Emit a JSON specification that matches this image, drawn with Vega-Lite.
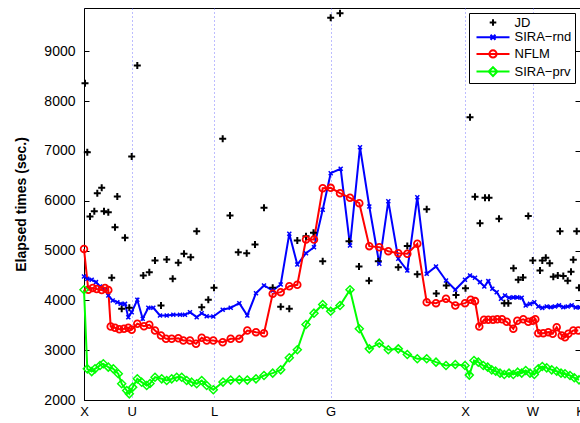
{
  "$schema": "https://vega.github.io/schema/vega-lite/v6.json",
  "width": 496,
  "height": 392,
  "autosize": {"type": "none"},
  "padding": {"left": 84, "top": 8, "right": 0, "bottom": 23},
  "background": "white",
  "config": {
    "font": "Liberation Sans",
    "view": {"stroke": "black", "strokeWidth": 1},
    "axis": {"domainColor": "black", "tickColor": "black", "labelColor": "black", "titleColor": "black", "grid": false}
  },
  "datasets": {
    "times": [
      {"series": "JD", "k": 1, "t": 8361}, {"series": "JD", "k": 3.3, "t": 6976}, {"series": "JD", "k": 6, "t": 5685}, {"series": "JD", "k": 10.3, "t": 5791},
      {"series": "JD", "k": 13.3, "t": 6153}, {"series": "JD", "k": 17.7, "t": 6261}, {"series": "JD", "k": 20, "t": 5791}, {"series": "JD", "k": 24.3, "t": 5771},
      {"series": "JD", "k": 27.7, "t": 4454}, {"series": "JD", "k": 31, "t": 5470}, {"series": "JD", "k": 33.3, "t": 6086}, {"series": "JD", "k": 37.7, "t": 3831},
      {"series": "JD", "k": 41, "t": 5257}, {"series": "JD", "k": 45.3, "t": 3851}, {"series": "JD", "k": 47.7, "t": 6890}, {"series": "JD", "k": 53.3, "t": 8717},
      {"series": "JD", "k": 59.3, "t": 4500}, {"series": "JD", "k": 65.3, "t": 4567}, {"series": "JD", "k": 71, "t": 4801}, {"series": "JD", "k": 77, "t": 3898},
      {"series": "JD", "k": 82.7, "t": 4821}, {"series": "JD", "k": 88.7, "t": 4434}, {"series": "JD", "k": 94.3, "t": 4755}, {"series": "JD", "k": 100, "t": 4935},
      {"series": "JD", "k": 106.7, "t": 4868}, {"series": "JD", "k": 112.7, "t": 5389}, {"series": "JD", "k": 117.7, "t": 3864}, {"series": "JD", "k": 124.3, "t": 4012},
      {"series": "JD", "k": 130, "t": 4253}, {"series": "JD", "k": 138.7, "t": 7245}, {"series": "JD", "k": 146, "t": 5705}, {"series": "JD", "k": 154.3, "t": 4968},
      {"series": "JD", "k": 162.7, "t": 4948}, {"series": "JD", "k": 171, "t": 5122}, {"series": "JD", "k": 180, "t": 5859}, {"series": "JD", "k": 188.7, "t": 4253},
      {"series": "JD", "k": 196.7, "t": 3871}, {"series": "JD", "k": 205.3, "t": 3831}, {"series": "JD", "k": 213.3, "t": 5200}, {"series": "JD", "k": 222, "t": 5290},
      {"series": "JD", "k": 229.5, "t": 5360}, {"series": "JD", "k": 238.7, "t": 4787}, {"series": "JD", "k": 246.7, "t": 9675}, {"series": "JD", "k": 256, "t": 9767},
      {"series": "JD", "k": 265, "t": 5189}, {"series": "JD", "k": 275, "t": 4681}, {"series": "JD", "k": 285, "t": 4393}, {"series": "JD", "k": 294.3, "t": 4787},
      {"series": "JD", "k": 314.3, "t": 4667}, {"series": "JD", "k": 323.3, "t": 5092}, {"series": "JD", "k": 333.3, "t": 4527}, {"series": "JD", "k": 342.7, "t": 5832},
      {"series": "JD", "k": 352.3, "t": 4140}, {"series": "JD", "k": 362.3, "t": 4299}, {"series": "JD", "k": 372, "t": 4110}, {"series": "JD", "k": 381.5, "t": 4243},
      {"series": "JD", "k": 386, "t": 7679}, {"series": "JD", "k": 391, "t": 6080}, {"series": "JD", "k": 396, "t": 5550}, {"series": "JD", "k": 401, "t": 6060},
      {"series": "JD", "k": 405, "t": 6060}, {"series": "JD", "k": 415, "t": 5638}, {"series": "JD", "k": 420.3, "t": 3944}, {"series": "JD", "k": 424.3, "t": 3944},
      {"series": "JD", "k": 429.5, "t": 4645}, {"series": "JD", "k": 434.3, "t": 4413}, {"series": "JD", "k": 439, "t": 4460}, {"series": "JD", "k": 444.3, "t": 5695},
      {"series": "JD", "k": 448.8, "t": 4801}, {"series": "JD", "k": 456, "t": 4600}, {"series": "JD", "k": 458.3, "t": 4801}, {"series": "JD", "k": 461.8, "t": 4855},
      {"series": "JD", "k": 465.7, "t": 4747}, {"series": "JD", "k": 469.3, "t": 4473}, {"series": "JD", "k": 473.8, "t": 4500}, {"series": "JD", "k": 476, "t": 5389},
      {"series": "JD", "k": 479.3, "t": 4490}, {"series": "JD", "k": 483.7, "t": 4393}, {"series": "JD", "k": 487, "t": 4577}, {"series": "JD", "k": 489.3, "t": 4815},
      {"series": "JD", "k": 492.7, "t": 5389}, {"series": "JD", "k": 495, "t": 4253},

      {"series": "SIRA−rnd", "k": 0, "t": 4480}, {"series": "SIRA−rnd", "k": 3.3, "t": 4433}, {"series": "SIRA−rnd", "k": 7.7, "t": 4413}, {"series": "SIRA−rnd", "k": 12, "t": 4366},
      {"series": "SIRA−rnd", "k": 16, "t": 4279}, {"series": "SIRA−rnd", "k": 21, "t": 4213}, {"series": "SIRA−rnd", "k": 24.3, "t": 4098}, {"series": "SIRA−rnd", "k": 28.7, "t": 3998},
      {"series": "SIRA−rnd", "k": 33.3, "t": 3964}, {"series": "SIRA−rnd", "k": 36.7, "t": 3932}, {"series": "SIRA−rnd", "k": 41, "t": 3930}, {"series": "SIRA−rnd", "k": 44.3, "t": 3663},
      {"series": "SIRA−rnd", "k": 47.7, "t": 3763}, {"series": "SIRA−rnd", "k": 53.3, "t": 4012}, {"series": "SIRA−rnd", "k": 58.7, "t": 3630}, {"series": "SIRA−rnd", "k": 64.3, "t": 3851},
      {"series": "SIRA−rnd", "k": 69.3, "t": 3851}, {"series": "SIRA−rnd", "k": 76, "t": 3697}, {"series": "SIRA−rnd", "k": 82.7, "t": 3697}, {"series": "SIRA−rnd", "k": 89.3, "t": 3710},
      {"series": "SIRA−rnd", "k": 96, "t": 3710}, {"series": "SIRA−rnd", "k": 101, "t": 3710}, {"series": "SIRA−rnd", "k": 106, "t": 3763}, {"series": "SIRA−rnd", "k": 112.7, "t": 3663},
      {"series": "SIRA−rnd", "k": 117.7, "t": 3743}, {"series": "SIRA−rnd", "k": 122.7, "t": 3680}, {"series": "SIRA−rnd", "k": 129.3, "t": 3676}, {"series": "SIRA−rnd", "k": 138.7, "t": 3811},
      {"series": "SIRA−rnd", "k": 146.7, "t": 3851}, {"series": "SIRA−rnd", "k": 155.3, "t": 3944}, {"series": "SIRA−rnd", "k": 163.3, "t": 3697}, {"series": "SIRA−rnd", "k": 172, "t": 4145},
      {"series": "SIRA−rnd", "k": 180, "t": 4299}, {"series": "SIRA−rnd", "k": 188.7, "t": 4199}, {"series": "SIRA−rnd", "k": 196.7, "t": 4319}, {"series": "SIRA−rnd", "k": 205.3, "t": 5337},
      {"series": "SIRA−rnd", "k": 213.3, "t": 4720}, {"series": "SIRA−rnd", "k": 222, "t": 4948}, {"series": "SIRA−rnd", "k": 230, "t": 5068}, {"series": "SIRA−rnd", "k": 238.7, "t": 5819},
      {"series": "SIRA−rnd", "k": 246.7, "t": 6554}, {"series": "SIRA−rnd", "k": 256.7, "t": 6642}, {"series": "SIRA−rnd", "k": 266, "t": 5102}, {"series": "SIRA−rnd", "k": 276, "t": 7076},
      {"series": "SIRA−rnd", "k": 285.3, "t": 5885}, {"series": "SIRA−rnd", "k": 295.3, "t": 4735}, {"series": "SIRA−rnd", "k": 304.3, "t": 5992}, {"series": "SIRA−rnd", "k": 314.3, "t": 4835},
      {"series": "SIRA−rnd", "k": 323.3, "t": 4600}, {"series": "SIRA−rnd", "k": 333.3, "t": 6072}, {"series": "SIRA−rnd", "k": 342.7, "t": 4534}, {"series": "SIRA−rnd", "k": 352, "t": 4681},
      {"series": "SIRA−rnd", "k": 362, "t": 4400}, {"series": "SIRA−rnd", "k": 371.3, "t": 4213}, {"series": "SIRA−rnd", "k": 381, "t": 4413}, {"series": "SIRA−rnd", "k": 386, "t": 4500},
      {"series": "SIRA−rnd", "k": 391, "t": 4453}, {"series": "SIRA−rnd", "k": 396, "t": 4366}, {"series": "SIRA−rnd", "k": 400.3, "t": 4279}, {"series": "SIRA−rnd", "k": 404.3, "t": 4386},
      {"series": "SIRA−rnd", "k": 408.3, "t": 4233}, {"series": "SIRA−rnd", "k": 412.7, "t": 4165}, {"series": "SIRA−rnd", "k": 417, "t": 4032}, {"series": "SIRA−rnd", "k": 421, "t": 4098},
      {"series": "SIRA−rnd", "k": 425, "t": 4052}, {"series": "SIRA−rnd", "k": 429.3, "t": 4060}, {"series": "SIRA−rnd", "k": 433.3, "t": 4060}, {"series": "SIRA−rnd", "k": 437.7, "t": 4052},
      {"series": "SIRA−rnd", "k": 441.7, "t": 3898}, {"series": "SIRA−rnd", "k": 446, "t": 3930}, {"series": "SIRA−rnd", "k": 450.3, "t": 3964}, {"series": "SIRA−rnd", "k": 454.3, "t": 3878},
      {"series": "SIRA−rnd", "k": 458.3, "t": 3850}, {"series": "SIRA−rnd", "k": 462.7, "t": 3878}, {"series": "SIRA−rnd", "k": 466.7, "t": 3864}, {"series": "SIRA−rnd", "k": 471, "t": 3878},
      {"series": "SIRA−rnd", "k": 475, "t": 3900}, {"series": "SIRA−rnd", "k": 479.3, "t": 3864}, {"series": "SIRA−rnd", "k": 483.7, "t": 3878}, {"series": "SIRA−rnd", "k": 487.7, "t": 3900},
      {"series": "SIRA−rnd", "k": 491.7, "t": 3860}, {"series": "SIRA−rnd", "k": 496, "t": 3860},

      {"series": "NFLM", "k": 0, "t": 5030}, {"series": "NFLM", "k": 4.3, "t": 4213}, {"series": "NFLM", "k": 8.7, "t": 4250}, {"series": "NFLM", "k": 12.7, "t": 4230},
      {"series": "NFLM", "k": 17.7, "t": 4210}, {"series": "NFLM", "k": 21, "t": 4250}, {"series": "NFLM", "k": 24.3, "t": 4210}, {"series": "NFLM", "k": 26.7, "t": 3476},
      {"series": "NFLM", "k": 31, "t": 3450}, {"series": "NFLM", "k": 35.3, "t": 3420}, {"series": "NFLM", "k": 40, "t": 3430}, {"series": "NFLM", "k": 44.3, "t": 3450},
      {"series": "NFLM", "k": 47.7, "t": 3410}, {"series": "NFLM", "k": 53.3, "t": 3530}, {"series": "NFLM", "k": 60, "t": 3480}, {"series": "NFLM", "k": 65.3, "t": 3510},
      {"series": "NFLM", "k": 71, "t": 3396}, {"series": "NFLM", "k": 77, "t": 3295}, {"series": "NFLM", "k": 82, "t": 3229}, {"series": "NFLM", "k": 87.7, "t": 3229},
      {"series": "NFLM", "k": 94.3, "t": 3240}, {"series": "NFLM", "k": 99.3, "t": 3195}, {"series": "NFLM", "k": 106, "t": 3195}, {"series": "NFLM", "k": 112, "t": 3128},
      {"series": "NFLM", "k": 117.7, "t": 3249}, {"series": "NFLM", "k": 122.7, "t": 3195}, {"series": "NFLM", "k": 129.3, "t": 3195}, {"series": "NFLM", "k": 138.7, "t": 3161},
      {"series": "NFLM", "k": 146.7, "t": 3229}, {"series": "NFLM", "k": 155.3, "t": 3229}, {"series": "NFLM", "k": 163.3, "t": 3396}, {"series": "NFLM", "k": 172, "t": 3362},
      {"series": "NFLM", "k": 180, "t": 3342}, {"series": "NFLM", "k": 188.7, "t": 4132}, {"series": "NFLM", "k": 196.7, "t": 4165}, {"series": "NFLM", "k": 205.3, "t": 4285},
      {"series": "NFLM", "k": 213.3, "t": 4313}, {"series": "NFLM", "k": 222, "t": 5223}, {"series": "NFLM", "k": 230, "t": 5223}, {"series": "NFLM", "k": 238.7, "t": 6253},
      {"series": "NFLM", "k": 246.7, "t": 6259}, {"series": "NFLM", "k": 256, "t": 6153}, {"series": "NFLM", "k": 266, "t": 6060}, {"series": "NFLM", "k": 275.3, "t": 5952},
      {"series": "NFLM", "k": 285.3, "t": 5089}, {"series": "NFLM", "k": 295.3, "t": 5068}, {"series": "NFLM", "k": 304.3, "t": 4988}, {"series": "NFLM", "k": 314.3, "t": 4948},
      {"series": "NFLM", "k": 323.3, "t": 4935}, {"series": "NFLM", "k": 333.3, "t": 5136}, {"series": "NFLM", "k": 342.7, "t": 3964}, {"series": "NFLM", "k": 352, "t": 3944},
      {"series": "NFLM", "k": 362, "t": 4032}, {"series": "NFLM", "k": 371.3, "t": 3898}, {"series": "NFLM", "k": 381, "t": 3944}, {"series": "NFLM", "k": 386.7, "t": 4012},
      {"series": "NFLM", "k": 391, "t": 3985}, {"series": "NFLM", "k": 395.3, "t": 3476}, {"series": "NFLM", "k": 400, "t": 3610}, {"series": "NFLM", "k": 404.3, "t": 3610},
      {"series": "NFLM", "k": 409, "t": 3610}, {"series": "NFLM", "k": 413.3, "t": 3620}, {"series": "NFLM", "k": 418, "t": 3620}, {"series": "NFLM", "k": 422.7, "t": 3570},
      {"series": "NFLM", "k": 429.3, "t": 3430}, {"series": "NFLM", "k": 433.3, "t": 3590}, {"series": "NFLM", "k": 439.3, "t": 3620}, {"series": "NFLM", "k": 444.3, "t": 3570},
      {"series": "NFLM", "k": 448.7, "t": 3590}, {"series": "NFLM", "k": 451.3, "t": 3620}, {"series": "NFLM", "k": 454.3, "t": 3342}, {"series": "NFLM", "k": 459.3, "t": 3342},
      {"series": "NFLM", "k": 464.3, "t": 3362}, {"series": "NFLM", "k": 468.7, "t": 3329}, {"series": "NFLM", "k": 472.7, "t": 3462}, {"series": "NFLM", "k": 477.7, "t": 3295},
      {"series": "NFLM", "k": 481, "t": 3261}, {"series": "NFLM", "k": 484.3, "t": 3329}, {"series": "NFLM", "k": 489.3, "t": 3396}, {"series": "NFLM", "k": 494.3, "t": 3396},

      {"series": "SIRA−prv", "k": 0, "t": 4213}, {"series": "SIRA−prv", "k": 3.3, "t": 2626}, {"series": "SIRA−prv", "k": 7.7, "t": 2570}, {"series": "SIRA−prv", "k": 11, "t": 2626},
      {"series": "SIRA−prv", "k": 16, "t": 2693}, {"series": "SIRA−prv", "k": 19.3, "t": 2727}, {"series": "SIRA−prv", "k": 24.3, "t": 2660}, {"series": "SIRA−prv", "k": 29.3, "t": 2626},
      {"series": "SIRA−prv", "k": 34.3, "t": 2526}, {"series": "SIRA−prv", "k": 37.7, "t": 2325}, {"series": "SIRA−prv", "k": 42.7, "t": 2191}, {"series": "SIRA−prv", "k": 45.3, "t": 2124},
      {"series": "SIRA−prv", "k": 48.7, "t": 2258}, {"series": "SIRA−prv", "k": 53.3, "t": 2425}, {"series": "SIRA−prv", "k": 57.7, "t": 2358}, {"series": "SIRA−prv", "k": 62.7, "t": 2291},
      {"series": "SIRA−prv", "k": 66, "t": 2330}, {"series": "SIRA−prv", "k": 71, "t": 2458}, {"series": "SIRA−prv", "k": 77.7, "t": 2425}, {"series": "SIRA−prv", "k": 82.7, "t": 2392},
      {"series": "SIRA−prv", "k": 87.7, "t": 2425}, {"series": "SIRA−prv", "k": 92.7, "t": 2458}, {"series": "SIRA−prv", "k": 97.7, "t": 2458}, {"series": "SIRA−prv", "k": 102.7, "t": 2392},
      {"series": "SIRA−prv", "k": 107.7, "t": 2358}, {"series": "SIRA−prv", "k": 112.7, "t": 2325}, {"series": "SIRA−prv", "k": 117.7, "t": 2392}, {"series": "SIRA−prv", "k": 122.7, "t": 2291},
      {"series": "SIRA−prv", "k": 129.3, "t": 2205}, {"series": "SIRA−prv", "k": 139, "t": 2360}, {"series": "SIRA−prv", "k": 146.7, "t": 2400}, {"series": "SIRA−prv", "k": 155.3, "t": 2405},
      {"series": "SIRA−prv", "k": 163.3, "t": 2400}, {"series": "SIRA−prv", "k": 172, "t": 2425}, {"series": "SIRA−prv", "k": 180, "t": 2492}, {"series": "SIRA−prv", "k": 188.7, "t": 2539},
      {"series": "SIRA−prv", "k": 196.7, "t": 2606}, {"series": "SIRA−prv", "k": 205.3, "t": 2847}, {"series": "SIRA−prv", "k": 213.3, "t": 3008}, {"series": "SIRA−prv", "k": 222, "t": 3516},
      {"series": "SIRA−prv", "k": 230, "t": 3743}, {"series": "SIRA−prv", "k": 238.7, "t": 3918}, {"series": "SIRA−prv", "k": 246.7, "t": 3783}, {"series": "SIRA−prv", "k": 256, "t": 3898},
      {"series": "SIRA−prv", "k": 266, "t": 4213}, {"series": "SIRA−prv", "k": 275.3, "t": 3430}, {"series": "SIRA−prv", "k": 285.3, "t": 3027}, {"series": "SIRA−prv", "k": 295.3, "t": 3141},
      {"series": "SIRA−prv", "k": 304.3, "t": 3008}, {"series": "SIRA−prv", "k": 314.3, "t": 3027}, {"series": "SIRA−prv", "k": 323.3, "t": 2914}, {"series": "SIRA−prv", "k": 333.3, "t": 2827},
      {"series": "SIRA−prv", "k": 342.7, "t": 2827}, {"series": "SIRA−prv", "k": 352, "t": 2760}, {"series": "SIRA−prv", "k": 362, "t": 2693}, {"series": "SIRA−prv", "k": 371.3, "t": 2713},
      {"series": "SIRA−prv", "k": 381, "t": 2693}, {"series": "SIRA−prv", "k": 385.3, "t": 2500}, {"series": "SIRA−prv", "k": 390, "t": 2793}, {"series": "SIRA−prv", "k": 394.3, "t": 2760},
      {"series": "SIRA−prv", "k": 399.3, "t": 2693}, {"series": "SIRA−prv", "k": 403.7, "t": 2660}, {"series": "SIRA−prv", "k": 407.7, "t": 2606}, {"series": "SIRA−prv", "k": 411.7, "t": 2579},
      {"series": "SIRA−prv", "k": 416, "t": 2539}, {"series": "SIRA−prv", "k": 420.3, "t": 2512}, {"series": "SIRA−prv", "k": 425, "t": 2539}, {"series": "SIRA−prv", "k": 429.3, "t": 2512},
      {"series": "SIRA−prv", "k": 433.7, "t": 2559}, {"series": "SIRA−prv", "k": 437.7, "t": 2539}, {"series": "SIRA−prv", "k": 441.7, "t": 2592}, {"series": "SIRA−prv", "k": 446, "t": 2539},
      {"series": "SIRA−prv", "k": 450.3, "t": 2512}, {"series": "SIRA−prv", "k": 454.3, "t": 2626}, {"series": "SIRA−prv", "k": 458.3, "t": 2673}, {"series": "SIRA−prv", "k": 462.7, "t": 2646},
      {"series": "SIRA−prv", "k": 467.7, "t": 2606}, {"series": "SIRA−prv", "k": 472.7, "t": 2579}, {"series": "SIRA−prv", "k": 477, "t": 2539}, {"series": "SIRA−prv", "k": 481, "t": 2526},
      {"series": "SIRA−prv", "k": 486, "t": 2492}, {"series": "SIRA−prv", "k": 490.3, "t": 2446}, {"series": "SIRA−prv", "k": 495, "t": 2405}
    ]
  },
  "data": {"name": "times"},
  "encoding": {
    "x": {
      "field": "k", "type": "quantitative",
      "scale": {"domain": [0, 496], "nice": false, "zero": false},
      "axis": {
        "title": null, "values": [0, 47.6, 130, 246.6, 381.2, 448.5, 496],
        "labelExpr": "datum.value < 10 ? 'X' : datum.value < 60 ? 'U' : datum.value < 140 ? 'L' : datum.value < 300 ? 'G' : datum.value < 400 ? 'X' : datum.value < 470 ? 'W' : 'K'",
        "labelFlush": false, "labelOverlap": false, "labelFontSize": 13, "labelPadding": 5,
        "ticks": false, "grid": true, "gridDash": [1, 3], "gridColor": "#5a5aff", "gridOpacity": 0.8, "gridWidth": 1
      }
    },
    "y": {"field": "t", "type": "quantitative", "scale": {"domain": [2000, 9870], "nice": false, "zero": false}, "axis": null},
    "color": {
      "field": "series", "type": "nominal",
      "scale": {"domain": ["JD", "SIRA−rnd", "NFLM", "SIRA−prv"], "range": ["#000000", "#0000ff", "#ff0000", "#00ff00"]},
      "legend": {
        "title": null, "orient": "top-right", "offset": 5, "padding": 3,
        "strokeColor": "black", "fillColor": "white", "labelFontSize": 13, "labelColor": "black",
        "symbolSize": 121, "symbolStrokeWidth": 2, "symbolOpacity": 1, "rowPadding": 0.7,
        "symbolOffset": 14.5, "labelOffset": 15,
        "encode": {
          "symbols": {
            "update": {
              "shape": {"signal": "datum.value === 'JD' ? 'M-0.6,0H0.6M0,-0.6V0.6' : datum.value === 'SIRA−rnd' ? 'M-3,0H3M-0.45,-0.45L0.45,0.45M-0.45,0.45L0.45,-0.45' : datum.value === 'NFLM' ? 'M-3,0H3M0.65,0A0.65,0.65 0 1,1 -0.65,0A0.65,0.65 0 1,1 0.65,0' : 'M-3,0H3M0,-0.8L0.8,0L0,0.8L-0.8,0Z'"},
              "fill": {"value": "transparent"},
              "strokeWidth": {"value": 2}
            }
          }
        }
      }
    }
  },
  "layer": [
    {
      "transform": [{"filter": "datum.series !== 'JD'"}],
      "mark": {"type": "line", "strokeWidth": 2},
      "encoding": {
        "y": {
          "field": "t", "type": "quantitative", "scale": {"domain": [2000, 9870], "nice": false, "zero": false},
          "axis": {
            "title": "Elapsed times (sec.)", "values": [2000, 3000, 4000, 5000, 6000, 7000, 8000, 9000], "format": "d",
            "tickSize": -5, "labelPadding": 14, "labelFontSize": 14,
            "titleFontSize": 14, "titleFontWeight": "bold", "titleX": -63, "titleY": 196,
            "titleAngle": -90, "titleAlign": "center", "titleBaseline": "middle"
          }
        }
      }
    },
    {
      "transform": [{"filter": "datum.series === 'JD'"}],
      "mark": {"type": "point", "shape": "M-1,0H1M0,-1V1", "size": 49, "strokeWidth": 2, "filled": false, "opacity": 1}
    },
    {
      "transform": [{"filter": "datum.series === 'SIRA−rnd'"}],
      "mark": {"type": "point", "shape": "M-1,-1L1,1M-1,1L1,-1", "size": 16, "strokeWidth": 1.5, "filled": false, "opacity": 1}
    },
    {
      "transform": [{"filter": "datum.series === 'NFLM'"}],
      "mark": {"type": "point", "shape": "circle", "size": 45, "strokeWidth": 1.8, "filled": false, "opacity": 1}
    },
    {
      "transform": [{"filter": "datum.series === 'SIRA−prv'"}],
      "mark": {"type": "point", "shape": "M0,-1L1,0L0,1L-1,0Z", "size": 64, "strokeWidth": 1.5, "filled": false, "opacity": 1},
      "encoding": {
        "y": {
          "field": "t", "type": "quantitative", "scale": {"domain": [2000, 9870], "nice": false, "zero": false},
          "axis": {"orient": "right", "title": null, "labels": false, "domain": false, "tickSize": -5, "values": [2000, 3000, 4000, 5000, 6000, 7000, 8000, 9000]}
        }
      }
    }
  ],
  "resolve": {"axis": {"y": "independent"}}
}
